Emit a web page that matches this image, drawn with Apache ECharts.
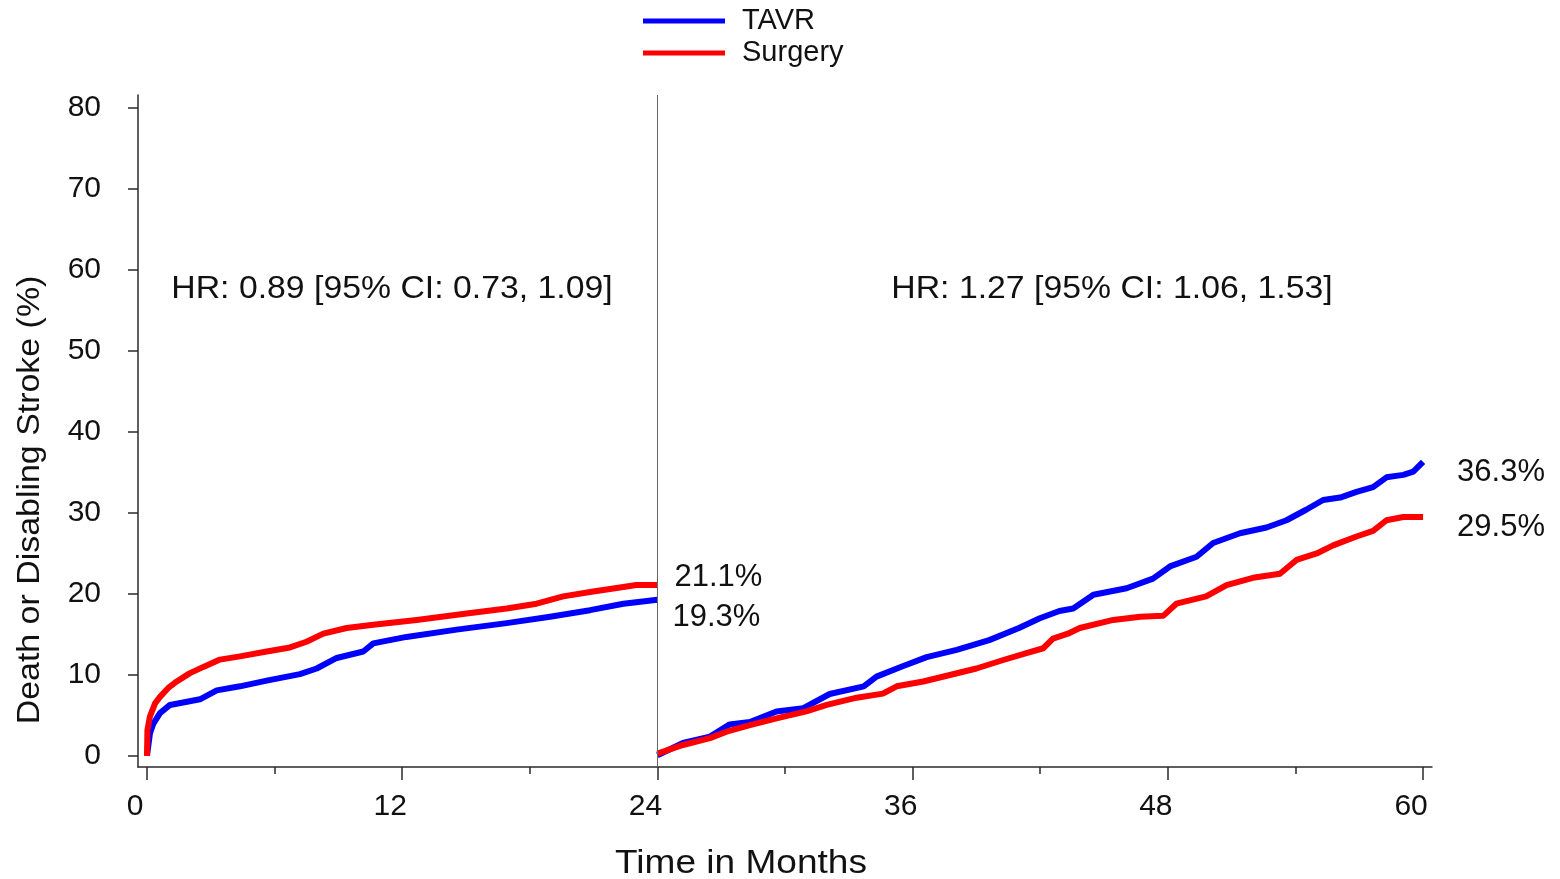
<!DOCTYPE html>
<html>
<head>
<meta charset="utf-8">
<script src="https://cdn.jsdelivr.net/npm/echarts@6/dist/echarts.min.js"></script>
<style>
html,body{margin:0;padding:0;background:#fff;}
#chart{width:1560px;height:879px;}
</style>
</head>
<body>
<div id="chart"></div>
<script>
// ---- data ----
const xMajorTicks = [0, 12, 24, 36, 48, 60];
const xMinorTicks = [6, 18, 30, 42, 54];
const yTicks = [0, 10, 20, 30, 40, 50, 60, 70, 80];

const tavrEarlyX = [0, 0.14, 0.3, 0.61, 1.08, 1.7, 2.49, 3.28, 4.37, 5.63, 7.19, 7.98, 8.92, 10.17, 10.64, 12.2, 14.56, 16.91, 18.95, 20.83, 22.4, 24];
const tavrEarlyY = [0, 2.8, 4.0, 5.3, 6.3, 6.6, 7.0, 8.1, 8.6, 9.3, 10.1, 10.8, 12.1, 12.9, 13.9, 14.7, 15.6, 16.4, 17.2, 18.0, 18.8, 19.3];

const surgEarlyX = [0, 0.02, 0.14, 0.38, 0.61, 1.0, 1.4, 2.0, 2.65, 3.43, 4.37, 5.63, 6.72, 7.5, 8.29, 9.39, 10.64, 12.68, 15.03, 16.91, 18.32, 19.57, 20.98, 22.24, 23.0, 24];
const surgEarlyY = [0, 3.2, 4.9, 6.5, 7.3, 8.4, 9.2, 10.2, 11.0, 11.9, 12.3, 12.9, 13.4, 14.1, 15.1, 15.8, 16.2, 16.8, 17.6, 18.2, 18.8, 19.7, 20.3, 20.8, 21.1, 21.1];

const tavrLateX = [24, 25.2, 26.47, 27.4, 28.35, 29.6, 30.86, 32.1, 33.7, 34.3, 35.56, 36.66, 38.07, 39.6, 41.0, 41.98, 42.9, 43.55, 44.5, 46.06, 47.3, 48.1, 49.35, 50.13, 51.39, 52.64, 53.58, 54.5, 55.3, 56.1, 56.87, 57.65, 58.28, 59.07, 59.54, 60];
const tavrLateY = [0.1, 1.6, 2.4, 3.9, 4.2, 5.5, 5.9, 7.65, 8.6, 9.8, 11.1, 12.2, 13.1, 14.3, 15.8, 17.0, 17.9, 18.2, 19.9, 20.7, 21.9, 23.4, 24.6, 26.3, 27.5, 28.2, 29.1, 30.4, 31.6, 31.9, 32.6, 33.2, 34.4, 34.7, 35.1, 36.3];

const surgLateX = [24, 25.2, 26.47, 27.25, 28.35, 29.6, 31.0, 31.96, 33.37, 34.6, 35.25, 36.5, 37.75, 39.0, 40.26, 41.35, 42.14, 42.6, 43.3, 43.86, 45.43, 46.7, 47.78, 48.4, 49.8, 50.76, 52.0, 53.27, 54.05, 55.0, 55.77, 56.87, 57.65, 58.28, 59.07, 60];
const surgLateY = [0.3, 1.36, 2.2, 3.0, 3.8, 4.65, 5.5, 6.3, 7.2, 7.7, 8.6, 9.2, 10.0, 10.8, 11.85, 12.7, 13.3, 14.5, 15.1, 15.8, 16.8, 17.2, 17.3, 18.8, 19.7, 21.1, 22.0, 22.5, 24.2, 25.0, 26.0, 27.1, 27.8, 29.1, 29.5, 29.5];

const landmark = 24;
const hrEarly = 'HR: 0.89 [95% CI: 0.73, 1.09]';
const hrLate = 'HR: 1.27 [95% CI: 1.06, 1.53]';
const xTitle = 'Time in Months';
const yTitle = 'Death or Disabling Stroke (%)';

// ---- build chart ----
const FONT = '"Liberation Sans", Arial, Helvetica, sans-serif';
const BLUE = '#0000FF', RED = '#FF0000', AX = '#2a2a2a';
const zip = (xs, ys) => xs.map((x, i) => [x, ys[i]]);

function mkSeries(name, color, xs, ys, labelOffset, extra) {
  return Object.assign({
    type: 'line', name: name, data: zip(xs, ys),
    showSymbol: false, symbol: 'none', animation: false,
    lineStyle: { color: color, width: 6, join: 'round' },
    itemStyle: { color: color },
    emphasis: { disabled: true },
    endLabel: {
      show: true, offset: labelOffset, distance: 5,
      formatter: p => p.value[1].toFixed(1) + '%',
      fontFamily: FONT, fontSize: 31, color: '#111'
    }
  }, extra || {});
}

const chart = echarts.init(document.getElementById('chart'), null, { renderer: 'canvas' });
const option = {
  backgroundColor: '#fff',
  animation: false,
  grid: { left: 138, right: 128, top: 95, bottom: 112, containLabel: false },
  legend: {
    data: ['TAVR', 'Surgery'], orient: 'vertical', left: 643, top: 6, padding: 0,
    icon: 'rect', itemWidth: 82, itemHeight: 5, itemGap: 2,
    textStyle: { fontFamily: FONT, fontSize: 29, color: '#111', lineHeight: 30, padding: [0, 0, 0, 12] },
    selectedMode: false
  },
  xAxis: [{
    type: 'value', min: -0.423, max: 60.42, position: 'bottom',
    axisLine: { show: true, onZero: false, lineStyle: { color: AX, width: 1.5 } },
    axisTick: { show: true, length: 13, customValues: xMajorTicks, lineStyle: { color: AX, width: 1.5 } },
    axisLabel: { customValues: xMajorTicks, fontFamily: FONT, fontSize: 30, color: '#111', margin: 25, padding: [0, 24, 0, 0] },
    splitLine: { show: false }
  }, {
    type: 'value', min: -0.423, max: 60.42, position: 'bottom', gridIndex: 0,
    axisLine: { show: false, onZero: false },
    axisTick: { show: true, length: 7, customValues: xMinorTicks, lineStyle: { color: AX, width: 1.5 } },
    axisLabel: { show: false },
    splitLine: { show: false }
  }],
  yAxis: [{
    type: 'value', min: -1.36, max: 81.6,
    axisLine: { show: true, onZero: false, lineStyle: { color: AX, width: 1.5 } },
    axisTick: { show: true, length: 10, customValues: yTicks, lineStyle: { color: AX, width: 1.5 } },
    axisLabel: { customValues: yTicks, fontFamily: FONT, fontSize: 30, color: '#111', margin: 37 },
    splitLine: { show: false }
  }],
  series: [
    mkSeries('TAVR', BLUE, tavrEarlyX, tavrEarlyY, [10, 18], {
      markLine: {
        silent: true, symbol: 'none', animation: false,
        label: { show: false },
        lineStyle: { color: '#666', width: 1, type: 'solid' },
        data: [{ xAxis: landmark }]
      }
    }),
    mkSeries('Surgery', RED, surgEarlyX, surgEarlyY, [12, -8]),
    mkSeries('TAVR', BLUE, tavrLateX, tavrLateY, [29, 11]),
    mkSeries('Surgery', RED, surgLateX, surgLateY, [29, 10])
  ],
  graphic: [
    { type: 'text', x: 392, y: 289, scaleX: 1.09, silent: true,
      style: { text: hrEarly, fontFamily: FONT, fontSize: 31, fill: '#111', align: 'center', verticalAlign: 'middle', textAlign: 'center', textVerticalAlign: 'middle' } },
    { type: 'text', x: 1112, y: 289, scaleX: 1.09, silent: true,
      style: { text: hrLate, fontFamily: FONT, fontSize: 31, fill: '#111', align: 'center', verticalAlign: 'middle', textAlign: 'center', textVerticalAlign: 'middle' } },
    { type: 'text', x: 741, y: 864, scaleX: 1.09, silent: true,
      style: { text: xTitle, fontFamily: FONT, fontSize: 34, fill: '#111', align: 'center', verticalAlign: 'middle', textAlign: 'center', textVerticalAlign: 'middle' } },
    { type: 'text', x: 30, y: 500, rotation: Math.PI / 2, scaleX: 1.06, silent: true,
      style: { text: yTitle, fontFamily: FONT, fontSize: 32, fill: '#111', align: 'center', verticalAlign: 'middle', textAlign: 'center', textVerticalAlign: 'middle' } }
  ]
};
chart.setOption(option);
</script>
</body>
</html>
